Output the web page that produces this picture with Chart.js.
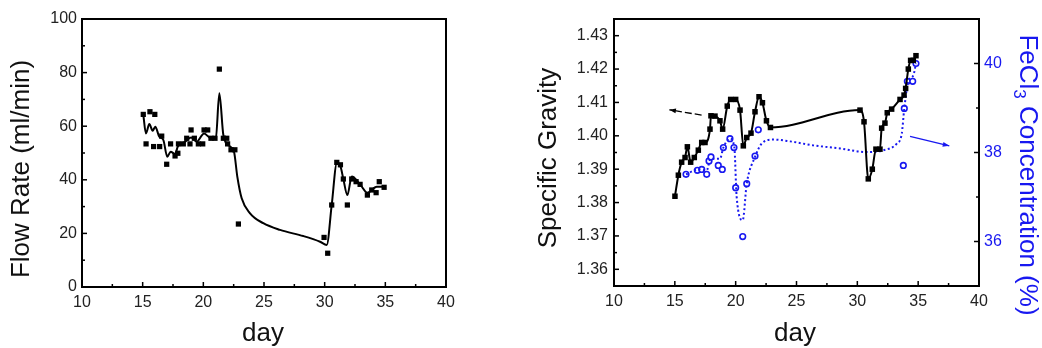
<!DOCTYPE html>
<html>
<head>
<meta charset="utf-8">
<script src="https://cdn.jsdelivr.net/npm/chart.js@4.4.1/dist/chart.umd.min.js"></script>
<style>
  html, body { margin: 0; padding: 0; background: #fff; }
  #wrap { position: relative; width: 1042px; height: 348px; }
  .box { position: absolute; top: 0; height: 348px; }
</style>
</head>
<body>
<div id="wrap">
  <div class="box" style="left:0;width:520px"><canvas id="flowChart"></canvas></div>
  <div class="box" style="left:520px;width:522px"><canvas id="sgChart"></canvas></div>
</div>
<script>
// Flow rate, specific gravity and FeCl3 concentration vs. day (two panels)

// --- left panel: flow rate measurements (squares) and smoothed trend line
const flowDays = [15.05, 15.28, 15.6, 15.9, 16.0, 16.4, 16.57, 16.98, 17.3, 17.67, 17.9, 17.95, 18.35, 18.63, 18.9,
    18.99, 19.26, 19.59, 19.95, 20.06, 20.36, 20.63, 20.96, 21.32, 21.65, 21.93, 22.0, 22.28, 22.6, 22.89,
    29.95, 30.25, 30.58, 31.0, 31.3, 31.54, 31.87, 32.23, 32.59, 32.92, 33.52, 33.88, 34.24, 34.5, 34.9];
const flowRates = [64.4, 53.4, 65.4, 52.4, 64.4, 52.4, 56.3, 45.8, 53.4, 48.9, 49.9, 53.4, 53.4, 55.5, 53.4,
    58.6, 55.5, 53.4, 53.4, 58.6, 58.6, 55.5, 55.5, 81.3, 55.5, 55.5, 53.4, 51.2, 51.2, 23.5,
    18.5, 12.6, 30.6, 46.5, 45.6, 40.3, 30.6, 40.3, 39.3, 38.3, 34.3, 36.2, 35.2, 39.3, 37.2];
const flowFitDays = [15.05, 15.27, 15.55, 15.82, 16.04, 16.37, 16.7, 17.03, 17.31, 17.67, 17.9, 18.49, 18.99,
    19.45, 20.06, 20.63, 21.04, 21.32, 21.65, 22.2, 22.53, 22.8, 23.16, 23.85, 24.94, 26.32, 28.24, 29.62,
    30.17, 30.58, 31.0, 31.3, 31.54, 31.87, 32.23, 32.92, 33.52, 34.29, 34.9];
const flowFitRates = [64.4, 57.3, 60.8, 58.3, 59.8, 56.1, 54.9, 48.6, 50.5, 49.6, 52.4, 54.2, 55.8,
    54.2, 57.3, 55.5, 56.1, 72.3, 56.7, 52.4, 50.5, 41.2, 33.1, 27.5, 23.8, 21.3, 19.0, 16.9,
    15.7, 30.6, 46.1, 45.0, 40.3, 34.3, 41.2, 38.3, 35.2, 37.4, 37.4];

// --- right panel: specific gravity (squares + line) and FeCl3 concentration (circles + dotted fit)
const sgDays = [15.01, 15.29, 15.56, 15.84, 16.03, 16.3, 16.6, 16.93, 17.21, 17.48, 17.89, 17.97, 18.3, 18.71,
    18.93, 19.31, 19.59, 20.0, 20.36, 20.63, 20.91, 21.26, 21.59, 21.92, 22.2, 22.53, 22.86, 30.22, 30.55,
    30.9, 31.23, 31.53, 31.86, 32.0, 32.27, 32.46, 32.82, 33.51, 33.84, 33.97, 34.19, 34.38, 34.6, 34.82];
const sgValues = [1.3819, 1.3882, 1.3921, 1.3935, 1.3967, 1.3921, 1.3935, 1.3957, 1.3980, 1.3980, 1.4020, 1.4060,
    1.4059, 1.4045, 1.4020, 1.4089, 1.4109, 1.4109, 1.4077, 1.3970, 1.3995, 1.4008, 1.4072, 1.4117, 1.4099,
    1.4045, 1.4025, 1.4077, 1.4042, 1.3871, 1.3900, 1.3960, 1.3960, 1.4023, 1.4038, 1.4069, 1.4080, 1.4109,
    1.4122, 1.4142, 1.4200, 1.4226, 1.4226, 1.4240];
const feDays = [15.92, 16.85, 17.21, 17.62, 17.81, 17.97, 18.57, 18.9, 18.99, 19.53, 19.86, 20.0, 20.58, 20.91,
    21.59, 21.86, 33.78, 33.86, 34.11, 34.55, 34.82];
const feValues = [37.51, 37.60, 37.62, 37.51, 37.81, 37.90, 37.71, 37.62, 38.11, 38.31, 38.11, 37.21, 36.11, 37.30,
    37.92, 38.51, 37.71, 38.99, 39.60, 39.60, 40.0];
const feFitDays = [15.92, 16.93, 17.62, 17.94, 18.71, 18.99, 19.53, 19.89, 20.08, 20.58, 20.91, 21.59, 22.14,
    23.09, 24.47, 26.38, 28.57, 30.77, 32.14, 33.24, 33.65, 33.86, 34.19, 34.6, 34.82];
const feFitValues = [37.51, 37.62, 37.60, 37.86, 37.86, 38.11, 38.31, 38.12, 37.01, 36.48, 37.30, 37.90, 38.20,
    38.29, 38.25, 38.16, 38.09, 38.01, 38.05, 38.20, 38.42, 38.99, 39.60, 39.73, 40.0];

// tick labels of the right panel's value axes
const sgTicks = [1.36, 1.37, 1.38, 1.39, 1.40, 1.41, 1.42, 1.43];
const feTicks = [36, 38, 40];

// arrows telling which curve belongs to which axis (day, value) start -> end
const sgArrowDays = [17.2, 14.55];
const sgArrowValues = [1.4062, 1.4078];
const feArrowDays = [34.33, 37.56];
const feArrowValues = [38.36, 38.15];

const FONT = 'Liberation Sans, Arial, Helvetica, sans-serif';
const BLUE = '#1818f0';
const TICK_COLOR = '#222';

const pts = (xs, ys) => xs.map((x, i) => ({ x: x, y: ys[i] }));

// inward major/minor ticks, box edges and axis titles
function drawTicks(ctx, scale, side, minorStep) {
    const a = scale.chart.chartArea;
    const tick = (v, len) => {
        const p = scale.getPixelForValue(v);
        ctx.beginPath();
        if (side === 'bottom') { ctx.moveTo(p, a.bottom); ctx.lineTo(p, a.bottom - len); }
        else if (side === 'left') { ctx.moveTo(a.left, p); ctx.lineTo(a.left + len, p); }
        else { ctx.moveTo(a.right, p); ctx.lineTo(a.right - len, p); }
        ctx.stroke();
    };
    const majors = scale.ticks.map(t => t.value);
    majors.forEach(v => tick(v, 5));
    const start = Math.ceil(scale.min / minorStep - 1e-6) * minorStep;
    for (let v = start; v <= scale.max + 1e-9; v += minorStep) {
        if (!majors.some(m => Math.abs(m - v) < minorStep * 0.01)) tick(v, 3);
    }
}

const framePlugin = {
    id: 'frame',
    afterDraw(chart, args, opts) {
        const { ctx, chartArea: a, scales } = chart;
        ctx.save();
        ctx.strokeStyle = '#000';
        ctx.lineWidth = 2;
        ctx.beginPath();
        ctx.moveTo(a.left, a.top);
        ctx.lineTo(a.right, a.top);
        if (opts.rightEdge) ctx.lineTo(a.right, a.bottom);
        ctx.stroke();

        ctx.lineWidth = 1.5;
        for (const t of opts.ticks) drawTicks(ctx, scales[t.id], t.side, t.minor);

        // arrows
        for (const ar of (opts.arrows || [])) {
            const xs = scales.x, ys = scales[ar.axis];
            const x1 = xs.getPixelForValue(ar.days[0]), y1 = ys.getPixelForValue(ar.values[0]);
            const x2 = xs.getPixelForValue(ar.days[1]), y2 = ys.getPixelForValue(ar.values[1]);
            ctx.strokeStyle = ar.color;
            ctx.fillStyle = ar.color;
            ctx.lineWidth = 1.3;
            ctx.setLineDash(ar.dash || []);
            ctx.beginPath();
            ctx.moveTo(x1, y1);
            ctx.lineTo(x2, y2);
            ctx.stroke();
            ctx.setLineDash([]);
            const ang = Math.atan2(y2 - y1, x2 - x1);
            const ah = 7;
            ctx.beginPath();
            ctx.moveTo(x2, y2);
            ctx.lineTo(x2 - ah * Math.cos(ang - 0.35), y2 - ah * Math.sin(ang - 0.35));
            ctx.lineTo(x2 - ah * Math.cos(ang + 0.35), y2 - ah * Math.sin(ang + 0.35));
            ctx.closePath();
            ctx.fill();
        }

        // axis titles
        ctx.textBaseline = 'middle';
        for (const t of opts.titles) {
            ctx.save();
            ctx.translate(t.x, t.y);
            ctx.rotate(t.rot || 0);
            ctx.fillStyle = t.color || '#111';
            ctx.textAlign = 'center';
            if (!t.parts) {
                ctx.font = '26px ' + FONT;
                ctx.fillText(t.text, 0, 0);
            } else {
                // text with subscript pieces, centred as a whole
                const widths = t.parts.map(p => { ctx.font = p.size + 'px ' + FONT; return ctx.measureText(p.text).width; });
                let x = -widths.reduce((s, w) => s + w, 0) / 2;
                ctx.textAlign = 'left';
                t.parts.forEach((p, i) => {
                    ctx.font = p.size + 'px ' + FONT;
                    ctx.fillText(p.text, x, p.dy || 0);
                    x += widths[i];
                });
            }
            ctx.restore();
        }
        ctx.restore();
    }
};

const tickFont = { family: FONT, size: 16 };
const baseScale = (extra) => Object.assign({
    type: 'linear',
    grid: { display: true, drawOnChartArea: false, drawTicks: false },
    border: { display: true, color: '#000', width: 2 }
}, extra);

const xScale = (h) => baseScale({
    min: 10, max: 40,
    ticks: { stepSize: 5, color: TICK_COLOR, font: tickFont, padding: 6, maxRotation: 0 },
    afterFit: s => { s.height = h; }
});

// left chart
new Chart(document.getElementById('flowChart'), {
    type: 'scatter',
    data: {
        datasets: [
            {
                label: 'Flow rate',
                data: pts(flowDays, flowRates),
                pointStyle: 'rect',
                pointRadius: 3.7,
                backgroundColor: '#000',
                borderWidth: 0,
                showLine: false
            },
            {
                label: 'Trend',
                type: 'line',
                data: pts(flowFitDays, flowFitRates),
                borderColor: '#000',
                borderWidth: 2,
                pointRadius: 0,
                cubicInterpolationMode: 'monotone',
                fill: false
            }
        ]
    },
    options: {
        responsive: true,
        maintainAspectRatio: false,
        animation: false,
        layout: { padding: { top: 19, right: 74, left: 0, bottom: 0 } },
        plugins: {
            legend: { display: false },
            tooltip: { enabled: false },
            frame: {
                rightEdge: true,
                ticks: [{ id: 'x', side: 'bottom', minor: 2.5 }, { id: 'y', side: 'left', minor: 10 }],
                titles: [
                    { text: 'Flow Rate (ml/min)', x: 22, y: 169, rot: -Math.PI / 2 },
                    { text: 'day', x: 263, y: 334 }
                ]
            }
        },
        scales: {
            x: xScale(61),
            y: baseScale({
                min: 0, max: 100,
                ticks: { stepSize: 20, color: TICK_COLOR, font: tickFont, padding: 5 },
                afterFit: s => { s.width = 82; }
            })
        }
    },
    plugins: [framePlugin]
});

// right chart
new Chart(document.getElementById('sgChart'), {
    type: 'scatter',
    data: {
        datasets: [
            {
                label: 'Specific Gravity',
                type: 'line',
                data: pts(sgDays, sgValues),
                yAxisID: 'y',
                pointStyle: 'rect',
                pointRadius: 3.9,
                pointBackgroundColor: '#000',
                pointBorderWidth: 0,
                borderColor: '#000',
                borderWidth: 2,
                cubicInterpolationMode: 'monotone',
                fill: false
            },
            {
                label: 'FeCl3 fit',
                type: 'line',
                data: pts(feFitDays, feFitValues),
                yAxisID: 'y2',
                borderColor: BLUE,
                borderWidth: 2,
                borderDash: [2, 2.5],
                pointRadius: 0,
                cubicInterpolationMode: 'monotone',
                fill: false
            },
            {
                label: 'FeCl3 Concentration',
                data: pts(feDays, feValues),
                yAxisID: 'y2',
                pointStyle: 'circle',
                pointRadius: 2.8,
                backgroundColor: '#fff',
                borderColor: BLUE,
                borderWidth: 1.6,
                showLine: false
            }
        ]
    },
    options: {
        responsive: true,
        maintainAspectRatio: false,
        animation: false,
        layout: { padding: { top: 19, right: 0, left: 0, bottom: 0 } },
        plugins: {
            legend: { display: false },
            tooltip: { enabled: false },
            frame: {
                rightEdge: false,
                ticks: [
                    { id: 'x', side: 'bottom', minor: 2.5 },
                    { id: 'y', side: 'left', minor: 0.005 },
                    { id: 'y2', side: 'right', minor: 1 }
                ],
                arrows: [
                    { axis: 'y', days: sgArrowDays, values: sgArrowValues, color: '#000', dash: [7, 3] },
                    { axis: 'y2', days: feArrowDays, values: feArrowValues, color: BLUE }
                ],
                titles: [
                    { text: 'Specific Gravity', x: 29, y: 158, rot: -Math.PI / 2 },
                    { text: 'day', x: 275, y: 334 },
                    {
                        x: 507, y: 175, rot: Math.PI / 2, color: BLUE,
                        parts: [
                            { text: 'FeCl', size: 26 },
                            { text: '3', size: 17, dy: 8 },
                            { text: ' Concentration (%)', size: 26 }
                        ]
                    }
                ]
            }
        },
        scales: {
            x: xScale(62),
            y: baseScale({
                position: 'left',
                min: 1.355, max: 1.435,
                ticks: { color: TICK_COLOR, font: tickFont, padding: 6, callback: v => v.toFixed(2) },
                afterBuildTicks: s => { s.ticks = sgTicks.map(v => ({ value: v })); },
                afterFit: s => { s.width = 94; }
            }),
            y2: baseScale({
                position: 'right',
                min: 35, max: 41,
                ticks: { color: BLUE, font: tickFont, padding: 5 },
                afterBuildTicks: s => { s.ticks = feTicks.map(v => ({ value: v })); },
                afterFit: s => { s.width = 63; }
            })
        }
    },
    plugins: [framePlugin]
});
</script>
</body>
</html>
